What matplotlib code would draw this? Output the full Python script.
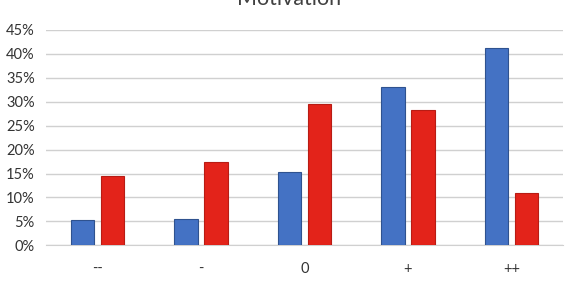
import matplotlib.pyplot as plt
import numpy as np
from matplotlib.ticker import PercentFormatter

categories = ['--', '-', '0', '+', '++']
blue_vals = [5.2, 5.5, 15.3, 33.0, 41.3]
red_vals = [14.5, 17.4, 29.6, 28.2, 10.9]
yticks = [0, 5, 10, 15, 20, 25, 30, 35, 40, 45]

plt.rcParams['font.family'] = ['Lato', 'DejaVu Sans']

fig = plt.figure(figsize=(5.8, 2.9), dpi=100)
ax = fig.add_axes([0.079, 0.154, 0.892, 0.743])

x = np.arange(len(categories))
w = 0.23
ax.bar(x - 0.145, blue_vals, w, color='#4472C4', edgecolor='#2F528F', linewidth=0.8, zorder=3)
ax.bar(x + 0.145, red_vals, w, color='#E3231A', edgecolor='#B81C14', linewidth=0.8, zorder=3)

ax.set_xlim(-0.5, 4.5)
ax.set_ylim(0, 45)
ax.set_yticks(yticks)
ax.yaxis.set_major_formatter(PercentFormatter(decimals=0))
ax.set_xticks(x)
ax.set_xticklabels(categories)
ax.grid(axis='y', color='#D0D0D0', linewidth=1, zorder=0)
for s in ['top', 'right', 'left']:
    ax.spines[s].set_visible(False)
ax.spines['bottom'].set_color('#D0D0D0')
ax.tick_params(axis='both', length=0, colors='#333333', labelsize=10.5)
ax.tick_params(axis='x', pad=12)
ax.tick_params(axis='y', pad=8)

# title sits partly above the top edge, as in the source image
fig.text(0.498, 1 - 5 / 290, 'Motivation', ha='center', va='baseline', fontsize=15.5, color='#404040')

fig.savefig('out.png', dpi=100)
